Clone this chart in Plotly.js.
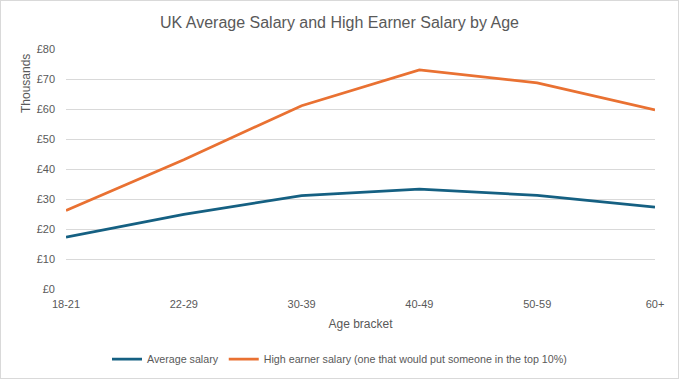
<!DOCTYPE html>
<html>
<head>
<meta charset="utf-8">
<script src="https://cdn.plot.ly/plotly-3.0.1.min.js"></script>
<style>
  html, body { margin: 0; padding: 0; background: #ffffff; }
  #wrap { position: relative; width: 679px; height: 379px; }
  #chart { position: absolute; left: 0; top: 0; width: 679px; height: 379px; }
  #frame { position: absolute; left: 0; top: 0; width: 679px; height: 379px; box-sizing: border-box; border: 1px solid #d9d9d9; pointer-events: none; }
</style>
</head>
<body>
<div id="wrap">
  <div id="chart"></div>
  <div id="frame"></div>
</div>
<script>
const ageBrackets = ['18-21', '22-29', '30-39', '40-49', '50-59', '60+'];
const averageSalary = [17.3, 24.9, 31.1, 33.3, 31.2, 27.3];
const highEarnerSalary = [26.2, 43.1, 61.1, 73.0, 68.7, 59.7];
const seriesNames = ['Average salary', 'High earner salary (one that would put someone in the top 10%)'];

const FONT = '"Liberation Sans", Arial, sans-serif';
const GREY = '#595959';

const traces = [
  {
    x: ageBrackets, y: averageSalary, name: seriesNames[0],
    type: 'scatter', mode: 'lines',
    line: { color: '#156082', width: 2.75 }
  },
  {
    x: ageBrackets, y: highEarnerSalary, name: seriesNames[1],
    type: 'scatter', mode: 'lines',
    line: { color: '#E97132', width: 2.75 }
  }
];

const layout = {
  width: 679, height: 379,
  margin: { l: 66, r: 24, t: 49, b: 90 },
  paper_bgcolor: '#ffffff', plot_bgcolor: '#ffffff',
  font: { family: FONT, color: GREY, size: 11 },
  title: {
    text: 'UK Average Salary and High Earner Salary by Age',
    font: { family: FONT, size: 16, color: GREY },
    x: 0.5, xref: 'container', xanchor: 'center',
    y: 1 - 22 / 379, yref: 'container', yanchor: 'middle'
  },
  xaxis: {
    type: 'category', range: [0, 5],
    showgrid: false, zeroline: false, showline: false,
    ticks: '', ticklabelstandoff: 7,
    tickfont: { family: FONT, size: 11, color: GREY },
    title: { text: 'Age bracket', font: { family: FONT, size: 12, color: GREY }, standoff: 10 },
    fixedrange: true
  },
  yaxis: {
    range: [0, 80], dtick: 10, tick0: 0,
    tickprefix: '£',
    showgrid: true, gridcolor: '#d9d9d9', gridwidth: 1,
    zeroline: false, showline: false, ticks: '',
    ticklabelstandoff: 10,
    tickfont: { family: FONT, size: 11, color: GREY },
    fixedrange: true
  },
  showlegend: true,
  legend: {
    orientation: 'h', xref: 'container', x: 0.5, xanchor: 'center',
    yref: 'container', y: 1 - 359 / 379, yanchor: 'middle',
    font: { family: FONT, size: 10.7, color: GREY },
    itemwidth: 30, itemclick: false, itemdoubleclick: false
  },
  annotations: [
    {
      text: 'Thousands', textangle: -90,
      xref: 'paper', yref: 'paper',
      x: -40 / 589, y: (289 - 84) / 240,
      xanchor: 'center', yanchor: 'middle', showarrow: false,
      font: { family: FONT, size: 12, color: GREY }
    }
  ]
};

Plotly.newPlot('chart', traces, layout, { displayModeBar: false, staticPlot: true });
</script>
</body>
</html>
